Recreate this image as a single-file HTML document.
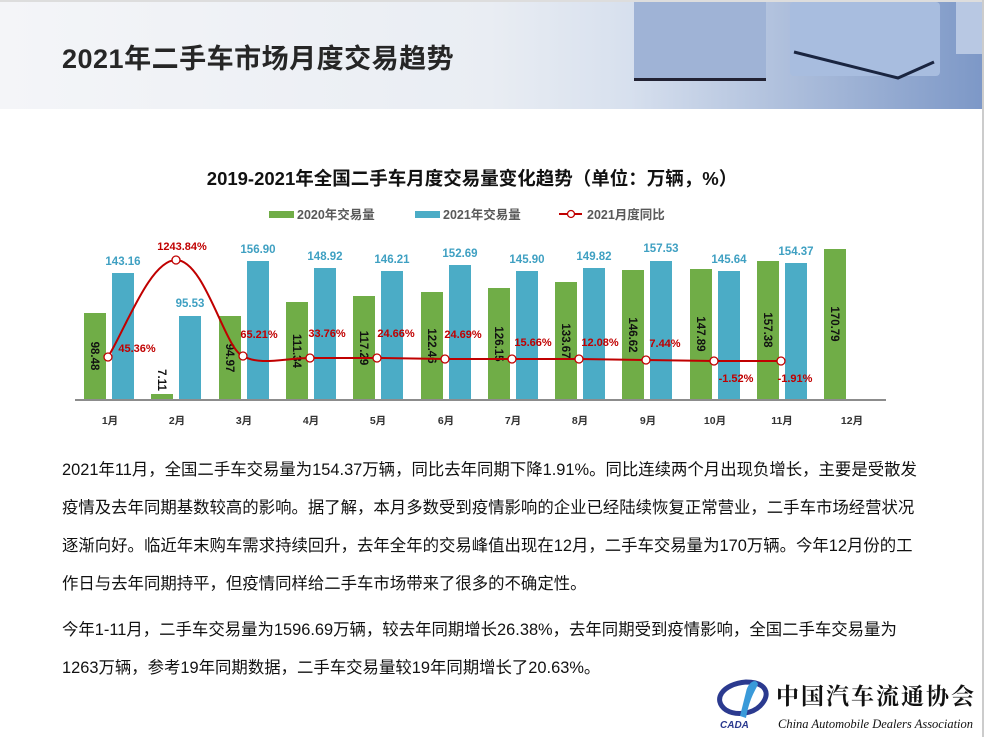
<!DOCTYPE html>
<html><head><meta charset="utf-8"><style>
body{margin:0;width:984px;height:737px;overflow:hidden;background:#fff;font-family:"Liberation Sans","Noto Sans CJK SC",sans-serif;position:relative}
.hdr{position:absolute;left:0;top:0;width:982px;height:109px;background:linear-gradient(90deg,#f4f5f8 0%,#e9edf3 50%,#d7e0ee 64%,#aebfdc 80%,#7d98c7 100%)}
.hdr h1{margin:0;position:absolute;left:62px;top:37px;font-size:27px;font-weight:bold;color:#262626;letter-spacing:0.5px}
.rb{position:absolute;right:0;top:0;width:2px;height:737px;background:#ccc}
.tb{position:absolute;top:0;left:0;width:984px;height:2px;background:#ddd}
.p{position:absolute;left:62px;white-space:nowrap;font-size:16.4px;color:#111;line-height:38px}
</style></head><body>
<div class="hdr"><h1>2021年二手车市场月度交易趋势</h1>
<svg width="384" height="109" style="position:absolute;left:598px;top:0">
<rect x="36" y="2" width="132" height="78" fill="#9fb3d6"/><rect x="36" y="78" width="132" height="3" fill="#223"/>
<rect x="192" y="2" width="150" height="74" fill="#a8bddf" rx="4"/><path d="M196,52 L300,78 L336,62" stroke="#1a2540" stroke-width="3" fill="none"/>
<rect x="358" y="2" width="26" height="52" fill="#b8c8e3"/>
</svg></div>
<div class="tb"></div><div class="rb"></div>
<svg width="984" height="737" style="position:absolute;left:0;top:0" font-family="Liberation Sans,Noto Sans CJK SC,sans-serif">
<text x="472" y="185" text-anchor="middle" font-size="18.5" font-weight="bold" fill="#111">2019-2021年全国二手车月度交易量变化趋势（单位：万辆，%）</text>
<g font-size="12.5" font-weight="bold" fill="#595959">
<rect x="269" y="211" width="25" height="7" fill="#70AD47"/><text x="297" y="219">2020年交易量</text>
<rect x="415" y="211" width="25" height="7" fill="#4BACC6"/><text x="443" y="219">2021年交易量</text>
<line x1="559" y1="214" x2="582" y2="214" stroke="#C00000" stroke-width="2"/><circle cx="571" cy="214" r="3.5" fill="#fff" stroke="#C00000" stroke-width="1.3"/><text x="587" y="219">2021月度同比</text>
</g>
<g fill="#70AD47">
<rect x="84" y="313" width="22" height="87"/><rect x="151" y="394" width="22" height="6"/><rect x="219" y="316" width="22" height="84"/><rect x="286" y="302" width="22" height="98"/><rect x="353" y="296" width="22" height="104"/><rect x="421" y="292" width="22" height="108"/><rect x="488" y="288" width="22" height="112"/><rect x="555" y="282" width="22" height="118"/><rect x="622" y="270" width="22" height="130"/><rect x="690" y="269" width="22" height="131"/><rect x="757" y="261" width="22" height="139"/><rect x="824" y="249" width="22" height="151"/>
</g>
<g fill="#4BACC6">
<rect x="112" y="273" width="22" height="127"/><rect x="179" y="316" width="22" height="84"/><rect x="247" y="261" width="22" height="139"/><rect x="314" y="268" width="22" height="132"/><rect x="381" y="271" width="22" height="129"/><rect x="449" y="265" width="22" height="135"/><rect x="516" y="271" width="22" height="129"/><rect x="583" y="268" width="22" height="132"/><rect x="650" y="261" width="22" height="139"/><rect x="718" y="271" width="22" height="129"/><rect x="785" y="263" width="22" height="137"/>
</g>
<g font-size="11.5" font-weight="bold" fill="#3FA0C2" text-anchor="middle">
<text x="123" y="265">143.16</text><text x="190" y="307">95.53</text><text x="258" y="253">156.90</text><text x="325" y="260">148.92</text><text x="392" y="263">146.21</text><text x="460" y="257">152.69</text><text x="527" y="263">145.90</text><text x="594" y="260">149.82</text><text x="661" y="252">157.53</text><text x="729" y="263">145.64</text><text x="796" y="255">154.37</text>
</g>
<g font-size="11.5" font-weight="bold" fill="#111" text-anchor="middle">
<text transform="translate(91,356) rotate(90)">98.48</text>
<text transform="translate(158,380) rotate(90)">7.11</text>
<text transform="translate(226,358) rotate(90)">94.97</text>
<text transform="translate(293,351) rotate(90)">111.34</text>
<text transform="translate(360,348) rotate(90)">117.29</text>
<text transform="translate(428,346) rotate(90)">122.46</text>
<text transform="translate(495,344) rotate(90)">126.15</text>
<text transform="translate(562,341) rotate(90)">133.67</text>
<text transform="translate(629,335) rotate(90)">146.62</text>
<text transform="translate(697,334) rotate(90)">147.89</text>
<text transform="translate(764,330) rotate(90)">157.38</text>
<text transform="translate(831,324) rotate(90)">170.79</text>
</g>
<line x1="75" y1="400" x2="886" y2="400" stroke="#8c8c8c" stroke-width="2"/>
<g font-size="10.5" font-weight="bold" fill="#333" text-anchor="middle">
<text x="110" y="424">1月</text><text x="177" y="424">2月</text><text x="244" y="424">3月</text><text x="311" y="424">4月</text><text x="378" y="424">5月</text><text x="446" y="424">6月</text><text x="513" y="424">7月</text><text x="580" y="424">8月</text><text x="648" y="424">9月</text><text x="715" y="424">10月</text><text x="782" y="424">11月</text><text x="852" y="424">12月</text>
</g>
<path d="M108,357 C125,330 150,260 176,260 C205,260 225,350 243,356 C260,366 285,358 310,358 L377,358 L445,359 L512,359 L579,359 L646,360 L714,361 L781,361" fill="none" stroke="#C00000" stroke-width="2"/>
<g fill="#fff" stroke="#C00000" stroke-width="1.3">
<circle cx="108" cy="357" r="4"/><circle cx="176" cy="260" r="4"/><circle cx="243" cy="356" r="4"/><circle cx="310" cy="358" r="4"/><circle cx="377" cy="358" r="4"/><circle cx="445" cy="359" r="4"/><circle cx="512" cy="359" r="4"/><circle cx="579" cy="359" r="4"/><circle cx="646" cy="360" r="4"/><circle cx="714" cy="361" r="4"/><circle cx="781" cy="361" r="4"/>
</g>
<g font-size="11" font-weight="bold" fill="#C00000" text-anchor="middle">
<text x="137" y="352">45.36%</text><text x="182" y="250">1243.84%</text><text x="259" y="338">65.21%</text><text x="327" y="337">33.76%</text><text x="396" y="337">24.66%</text><text x="463" y="338">24.69%</text><text x="533" y="346">15.66%</text><text x="600" y="346">12.08%</text><text x="665" y="347">7.44%</text><text x="736" y="382">-1.52%</text><text x="795" y="382">-1.91%</text>
</g>
<g transform="translate(716,672)">
<path d="M10,38 C-4,28 6,12 30,10 C50,10 56,22 44,34 C36,42 20,44 10,38Z" fill="none" stroke="#2b3a8f" stroke-width="5"/>
<path d="M24,44 L30,20 C32,10 40,6 42,12 C40,18 34,24 30,46Z" fill="#3a9ad9"/>
<text x="4" y="56" font-size="10" font-weight="bold" font-style="italic" fill="#2b3a8f">CADA</text>
<text x="60" y="32" font-size="23" font-weight="bold" fill="#111" letter-spacing="2" font-family="Noto Serif CJK SC,serif">中国汽车流通协会</text>
<text x="62" y="56" font-size="12.5" font-style="italic" fill="#111" font-family="Liberation Serif,serif">China Automobile Dealers Association</text>
</g>
</svg>
<div class="p" style="top:451px">2021年11月，全国二手车交易量为154.37万辆，同比去年同期下降1.91%。同比连续两个月出现负增长，主要是受散发<br>疫情及去年同期基数较高的影响。据了解，本月多数受到疫情影响的企业已经陆续恢复正常营业，二手车市场经营状况<br>逐渐向好。临近年末购车需求持续回升，去年全年的交易峰值出现在12月，二手车交易量为170万辆。今年12月份的工<br>作日与去年同期持平，但疫情同样给二手车市场带来了很多的不确定性。</div>
<div class="p" style="top:611px">今年1-11月，二手车交易量为1596.69万辆，较去年同期增长26.38%，去年同期受到疫情影响，全国二手车交易量为<br>1263万辆，参考19年同期数据，二手车交易量较19年同期增长了20.63%。</div>
</body></html>
